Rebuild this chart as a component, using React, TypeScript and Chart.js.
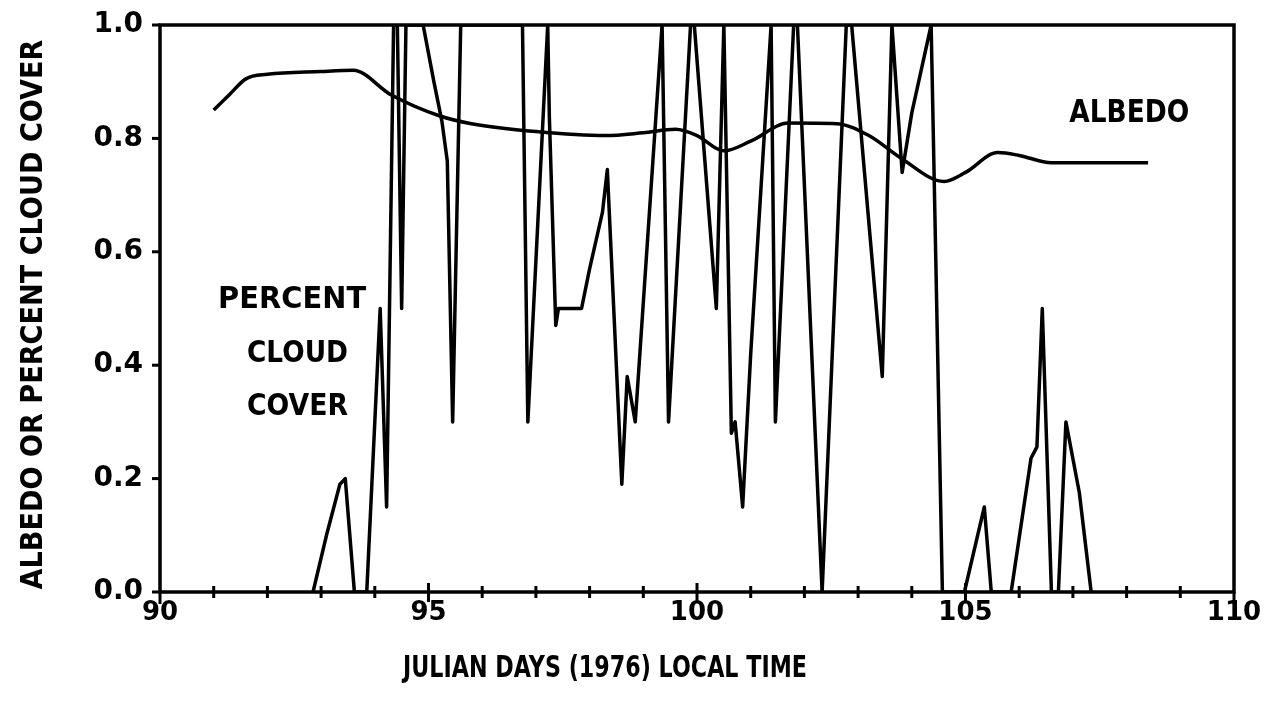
import { useEffect, useRef } from 'react';
import { Chart, registerables } from 'chart.js';

Chart.register(...registerables);

// Julian day range of the horizontal axis and value range of the vertical axis
const X_MIN = 90;
const X_MAX = 110;
const X_LABEL_STEP = 5;
const Y_MIN = 0;
const Y_MAX = 1;
const Y_STEP = 0.2;

// Albedo (smooth curve)
const albedoDays = [
  91.0, 91.3, 91.6, 92.0, 93.0, 93.6, 94.3, 95.2, 95.8, 97.0, 98.3, 99.0,
  99.6, 100.0, 100.5, 101.0, 101.7, 102.6, 103.2, 103.8, 104.6, 105.0,
  105.6, 106.0, 106.6, 108.4,
];
const albedoValues = [
  0.85, 0.878, 0.905, 0.913, 0.918, 0.92, 0.877, 0.84, 0.826, 0.812, 0.805,
  0.81, 0.816, 0.805, 0.778, 0.795, 0.827, 0.826, 0.805, 0.765, 0.724, 0.74,
  0.775, 0.77, 0.757, 0.757,
];

// Fraction of cloud cover
const cloudDays = [
  92.85, 93.1, 93.35, 93.45, 93.62, 93.85, 94.1, 94.22, 94.35, 94.42,
  94.5, 94.58, 94.9, 95.1, 95.25, 95.35, 95.45, 95.6, 96.75, 96.85, 97.22,
  97.25, 97.37, 97.42, 97.85, 98.0, 98.24, 98.33, 98.6, 98.7, 98.85, 99.35,
  99.47, 99.88, 99.95, 100.36, 100.5, 100.64, 100.71, 100.85, 101.0, 101.38,
  101.46, 101.8, 101.87, 102.33, 102.78, 102.88, 103.45, 103.63, 103.82,
  104.0, 104.36, 104.57, 104.98, 105.35, 105.48, 105.85, 106.22, 106.33,
  106.43, 106.6, 106.73, 106.87, 107.12, 107.34,
];
const cloudValues = [
  0, 0.1, 0.19, 0.2, 0, 0, 0.5, 0.15, 1.0, 1.0,
  0.5, 1.0, 1.0, 0.9, 0.83, 0.76, 0.3, 1.0, 1.0, 0.3, 1.0,
  0.84, 0.47, 0.5, 0.5, 0.57, 0.67, 0.745, 0.19, 0.38, 0.3, 1.0,
  0.3, 1.0, 1.0, 0.5, 1.0, 0.28, 0.3, 0.15, 0.42, 1.0,
  0.3, 1.0, 1.0, 0.0, 1.0, 1.0, 0.38, 1.0, 0.74,
  0.845, 1.0, 0.0, 0.0, 0.15, 0.0, 0.0, 0.236, 0.256,
  0.5, 0.0, 0.0, 0.3, 0.175, 0.0,
];

// Text labels
const xTitle = 'JULIAN DAYS (1976) LOCAL TIME';
const yTitle = 'ALBEDO OR PERCENT CLOUD COVER';
const cloudLabel = ['PERCENT', 'CLOUD', 'COVER'];
const albedoLabel = 'ALBEDO';

const FONT = '"DejaVu Sans", "Liberation Sans", sans-serif';
const INK = '#000';

// Draw bold text centred on (cx, cy), squeezed horizontally to a given width
function drawFitted(
  ctx: CanvasRenderingContext2D,
  text: string,
  cx: number,
  cy: number,
  size: number,
  width: number,
  rotate = false,
) {
  ctx.save();
  ctx.font = `bold ${size}px ${FONT}`;
  const natural = ctx.measureText(text).width;
  ctx.translate(cx, cy);
  if (rotate) ctx.rotate(-Math.PI / 2);
  ctx.scale(width / natural, 1);
  ctx.textAlign = 'center';
  ctx.textBaseline = 'alphabetic';
  ctx.fillStyle = INK;
  ctx.fillText(text, 0, size * 0.365);
  ctx.restore();
}

const framePlugin = {
  id: 'frameTicksAndText',
  afterDraw(chart: any) {
    const { ctx, chartArea: a } = chart;
    const xs = chart.scales.x;
    const ys = chart.scales.y;
    ctx.save();
    ctx.strokeStyle = INK;
    ctx.lineWidth = 3.5;
    ctx.strokeRect(a.left, a.top, a.right - a.left, a.bottom - a.top);

    // day ticks crossing the bottom axis
    ctx.lineWidth = 3;
    for (let d = X_MIN; d <= X_MAX; d++) {
      const px = xs.getPixelForValue(d);
      let up = 6;
      let down = 6;
      if (d % X_LABEL_STEP === 0) {
        up = 9;
        down = 10;
      }
      if (d === X_MIN || d === X_MAX) {
        up = 0;
        down = 12;
      }
      ctx.beginPath();
      ctx.moveTo(px, a.bottom - up);
      ctx.lineTo(px, a.bottom + down);
      ctx.stroke();
    }
    // value ticks on the left axis
    for (let i = 0; i <= Math.round((Y_MAX - Y_MIN) / Y_STEP); i++) {
      const py = ys.getPixelForValue(Y_MIN + i * Y_STEP);
      ctx.beginPath();
      ctx.moveTo(a.left - 8, py);
      ctx.lineTo(a.left, py);
      ctx.stroke();
    }
    ctx.restore();

    // axis titles
    drawFitted(ctx, xTitle, (a.left + a.right) / 2 - 92, a.bottom + 74, 31, 404);
    drawFitted(ctx, yTitle, 31, (a.top + a.bottom) / 2 + 6, 31, 550, true);

    // curve labels, anchored in data coordinates
    const cloudSpots = [
      { d: 92.46, v: 0.52, w: 148 },
      { d: 92.56, v: 0.425, w: 101 },
      { d: 92.56, v: 0.332, w: 101 },
    ];
    cloudLabel.forEach((t, i) => {
      const s = cloudSpots[i];
      drawFitted(ctx, t, xs.getPixelForValue(s.d), ys.getPixelForValue(s.v), 31, s.w);
    });
    drawFitted(ctx, albedoLabel, xs.getPixelForValue(108.05), ys.getPixelForValue(0.85), 32, 120);
  },
};

export default function App() {
  const ref = useRef<HTMLCanvasElement | null>(null);

  useEffect(() => {
    if (!ref.current) return;
    const chart = new Chart(ref.current, {
      type: 'line',
      data: {
        datasets: [
          {
            label: 'Albedo',
            data: albedoDays.map((d, i) => ({ x: d, y: albedoValues[i] })),
            borderColor: INK,
            borderWidth: 3.5,
            pointRadius: 0,
            cubicInterpolationMode: 'monotone',
            fill: false,
          },
          {
            label: 'Percent cloud cover',
            data: cloudDays.map((d, i) => ({ x: d, y: cloudValues[i] })),
            borderColor: INK,
            borderWidth: 3.5,
            borderJoinStyle: 'round',
            borderCapStyle: 'round',
            pointRadius: 0,
            tension: 0,
            fill: false,
          },
        ],
      },
      options: {
        animation: false,
        responsive: false,
        devicePixelRatio: 1,
        layout: { padding: { top: 25, right: 31, left: 0, bottom: 0 } },
        plugins: {
          legend: { display: false },
          tooltip: { enabled: false },
        },
        scales: {
          x: {
            type: 'linear',
            min: X_MIN,
            max: X_MAX,
            grid: { display: false, drawTicks: false },
            border: { display: false },
            ticks: {
              stepSize: X_LABEL_STEP,
              autoSkip: false,
              maxRotation: 0,
              padding: 6,
              color: INK,
              font: { family: FONT, size: 26, weight: 'bold' },
            },
            afterFit: (s: any) => {
              s.height = 120;
              s.paddingLeft = 0;
              s.paddingRight = 0;
            },
          },
          y: {
            type: 'linear',
            min: Y_MIN,
            max: Y_MAX,
            grid: { display: false, drawTicks: false },
            border: { display: false },
            ticks: {
              stepSize: Y_STEP,
              padding: 17,
              color: INK,
              font: { family: FONT, size: 28, weight: 'bold' },
              callback: (v: any) => Number(v).toFixed(1),
            },
            afterFit: (s: any) => {
              s.width = 160;
              s.paddingTop = 0;
              s.paddingBottom = 0;
            },
          },
        },
      },
      plugins: [framePlugin],
    } as any);
    return () => chart.destroy();
  }, []);

  return (
    <div style={{ position: 'absolute', left: 0, top: 0, width: 1265, height: 712, background: '#fff' }}>
      <canvas ref={ref} width={1265} height={712} style={{ display: 'block' }} />
    </div>
  );
}
